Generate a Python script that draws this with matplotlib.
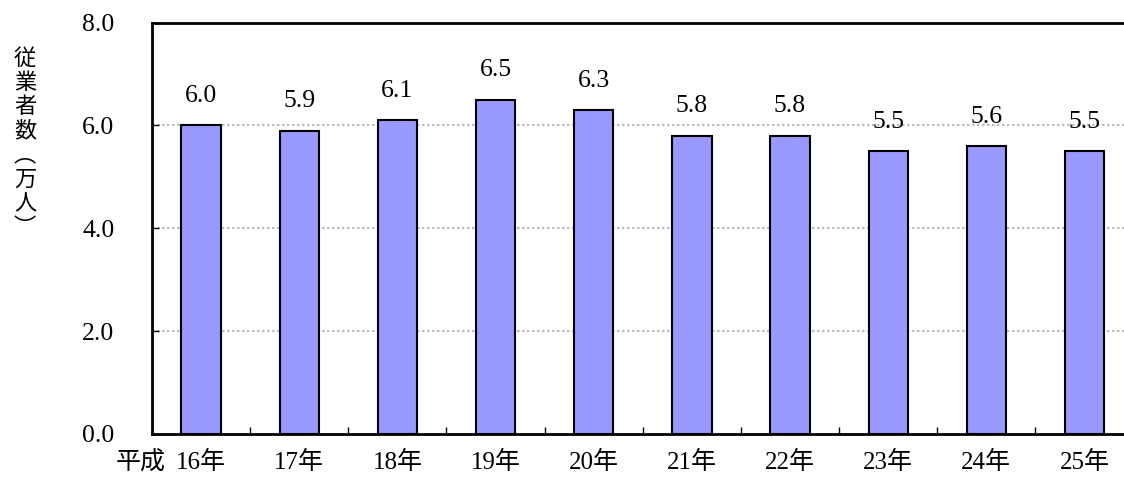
import matplotlib.pyplot as plt
from matplotlib.ticker import FixedLocator
import numpy as np

plt.rcParams['font.family'] = ['Liberation Serif', 'Noto Sans CJK JP', 'DejaVu Sans']

# data
years = ['16年', '17年', '18年', '19年', '20年', '21年', '22年', '23年', '24年', '25年']
workers = [6.0, 5.9, 6.1, 6.5, 6.3, 5.8, 5.8, 5.5, 5.6, 5.5]
yticks = [0.0, 2.0, 4.0, 6.0, 8.0]
ylabel_chars = ['従', '業', '者', '数', '︵', '万', '人', '︶']

fig = plt.figure(figsize=(11.24, 4.79), dpi=100)
W, H = 1124, 479
ax = fig.add_axes([152 / W, 1 - 434 / H, (1133.6 - 152) / W, (434 - 22.5) / H])

x = np.arange(len(years))
ax.bar(x, workers, width=0.40, color='#9999ff', edgecolor='black', linewidth=1.5, zorder=3)

for xi, v in zip(x, workers):
    ax.annotate(f'{v:.1f}', (xi, v), xytext=(0, 21), textcoords='offset points',
                ha='center', va='center', fontsize=18.5)

ax.set_xlim(-0.5, len(years) - 0.5)
ax.set_ylim(0, 8)
ax.set_yticks(yticks)
ax.set_yticklabels([f'{t:.1f}' for t in yticks], fontsize=18.5)
ax.set_xticks(x)
ax.set_xticklabels(years, fontsize=18)
ax.xaxis.set_minor_locator(FixedLocator(x[:-1] + 0.5))
ax.tick_params(axis='x', which='major', length=0, pad=12)
ax.tick_params(axis='x', which='minor', direction='in', length=5, width=1, color='black')
ax.tick_params(axis='y', direction='in', length=5, width=1, pad=27)

for g in [2.0, 4.0, 6.0]:
    ax.axhline(g, color='#bcbcbc', linestyle=(0, (1.2, 1.2)), linewidth=1.5, zorder=1)

for side in ['left', 'top', 'bottom']:
    ax.spines[side].set_linewidth(2)
ax.spines['right'].set_visible(False)

fig.text(141 / W, 1 - 462 / H, '平成', ha='center', va='center', fontsize=18)
fig.text(25 / W, 1 - 143 / H, '\n'.join(ylabel_chars), ha='center', va='center',
         fontsize=16, linespacing=1.07, family=['Noto Sans CJK JP'])

fig.savefig('out.png', dpi=100)
